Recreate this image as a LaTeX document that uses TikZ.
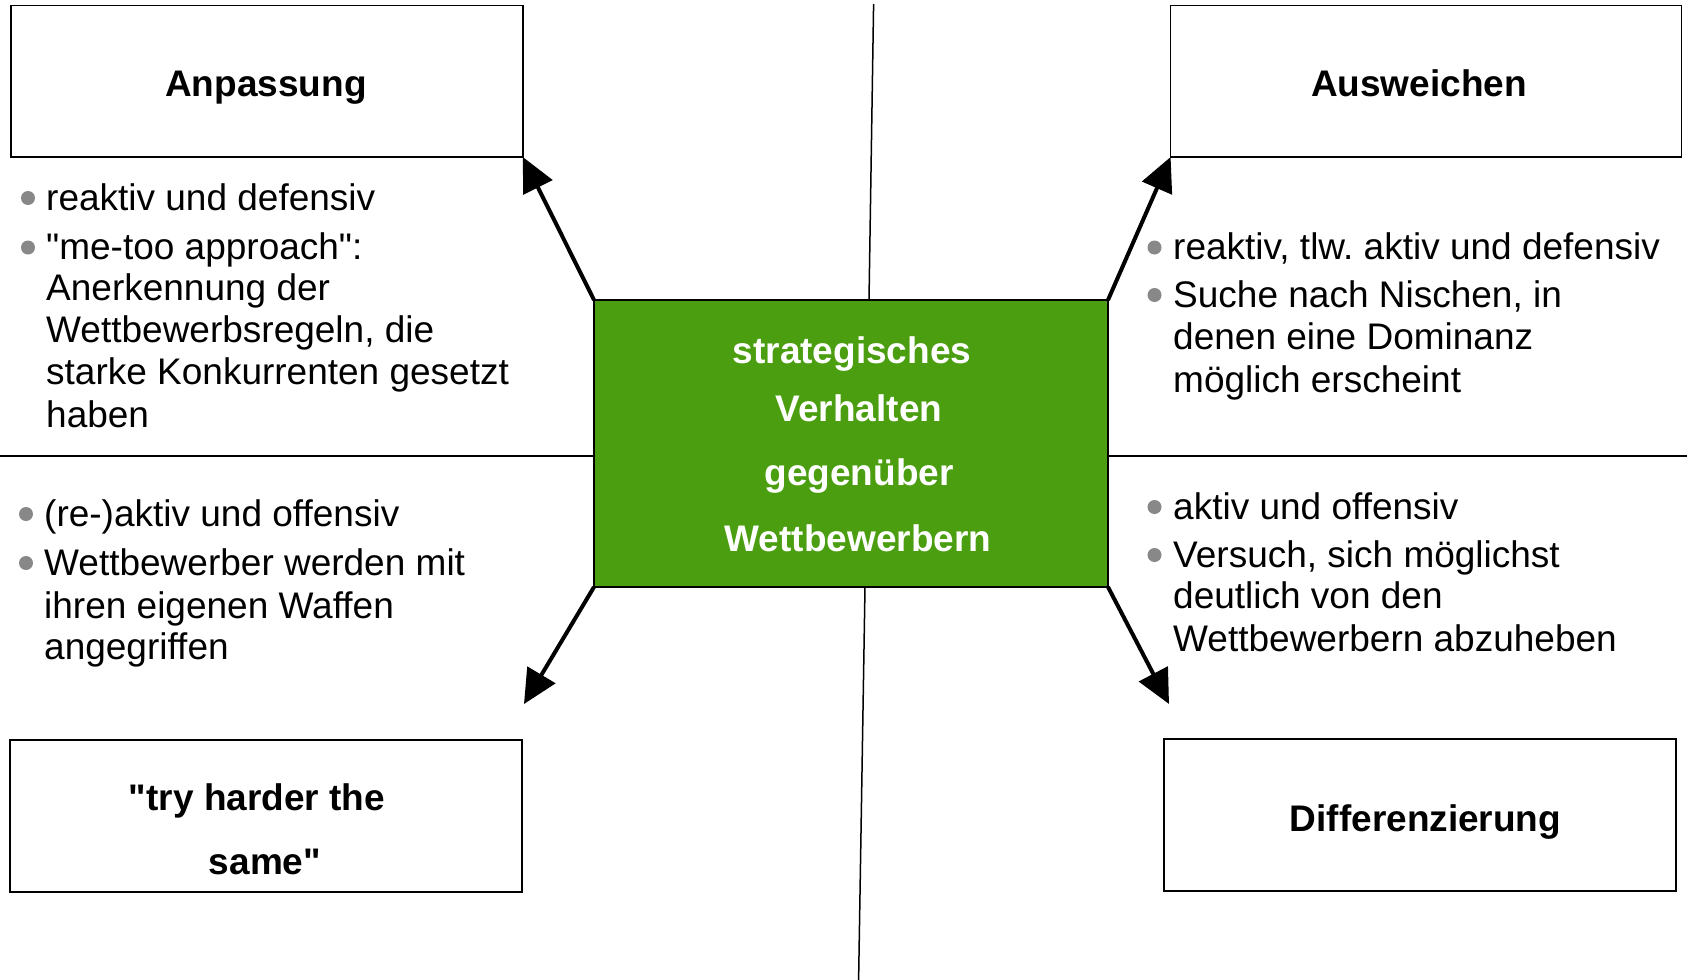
\documentclass[tikz,border=0pt]{standalone}
\usepackage{fontspec}
\setmainfont{Liberation Sans}
\usetikzlibrary{arrows.meta}
\definecolor{grn}{RGB}{74,158,16}
\definecolor{bulgray}{RGB}{136,136,136}
\newcommand{\sq}{\XeTeXglyph\XeTeXcharglyph34\relax}
\frenchspacing
\begin{document}
\begin{tikzpicture}[x=1pt,y=-1pt,
  titlebox/.style={draw=black, line width=1.6pt, inner sep=0pt, outer sep=0pt, anchor=north west},
  title/.style={font=\fontsize{37}{42}\selectfont\bfseries, anchor=base, inner sep=0pt},
  ctext/.style={font=\fontsize{37}{42}\selectfont\bfseries, text=white, anchor=base, inner sep=0pt},
  btext/.style={font=\fontsize{37}{42}\selectfont, anchor=base west, inner sep=0pt},
  bul/.style={circle, fill=bulgray, minimum size=14pt, inner sep=0pt},
  divider/.style={draw=black, line width=1.5pt},
  bigarrow/.style={line width=4pt, -{Triangle[length=34pt,width=32pt]}}]
\useasboundingbox[fill=white] (0,0) rectangle (1687,980);

% divider lines
\coordinate (vtop) at (873.6,4);
\coordinate (vtopend) at (869,300);
\coordinate (vbotstart) at (865,587);
\coordinate (vbot) at (858.6,980);
\coordinate (hl) at (0,456);
\coordinate (hr) at (1687,456);

% green centre box
\node[draw=black, line width=1.6pt, fill=grn, inner sep=0pt, outer sep=0pt, anchor=north west,
      minimum width=514pt, minimum height=287pt] (core) at (594,300) {};

\draw[divider] (vtop) -- (vtopend);
\draw[divider] (vbotstart) -- (vbot);
\draw[divider] (hl) -- (core.west |- hl);
\draw[divider] (core.east |- hr) -- (hr);

\node[ctext] (c1) at (852,363) {strategisches};
\node[ctext] (c2) at (859,421) {Verhalten};
\node[ctext] (c3) at (859,485) {gegenüber};
\node[ctext] (c4) at (858,551) {Wettbewerbern};

% corner boxes
\node[titlebox, minimum width=512pt, minimum height=151.6pt] (anp) at (10.8,5.4) {};
\node[titlebox, minimum width=511pt, minimum height=151.6pt] (ausw) at (1170.6,5.4) {};
\node[titlebox, minimum width=512.3pt, minimum height=152pt] (try) at (9.7,740) {};
\node[titlebox, minimum width=512pt, minimum height=152pt] (diff) at (1164,739) {};

\node[title] (tanp) at (266,96) {Anpassung};
\node[title] (tausw) at (1419,96) {Ausweichen};
\node[title] (ttry1) at (257,810) {\sq try harder the};
\node[title] (ttry2) at (265,874) {same\sq};
\node[title] (tdiff) at (1425.5,831) {Differenzierung};

% arrows
\coordinate (blt) at (524,704);
\coordinate (brt) at (1169,704);
\draw[bigarrow] (core.north west) -- (anp.south east);
\draw[bigarrow] (core.north east) -- (ausw.south west);
\draw[bigarrow] (core.south west) -- (blt);
\draw[bigarrow] (core.south east) -- (brt);

% top-left bullets
\node[bul] (b1) at (28,198) {};
\node[btext] (l1) at (46,210) {reaktiv und defensiv};
\node[bul] (b2) at (28,247.5) {};
\node[btext] (l2) at (46,259.5) {\sq me-too approach\sq:};
\node[btext] (l3) at (46,300) {Anerkennung der};
\node[btext] (l4) at (46,342) {Wettbewerbsregeln, die};
\node[btext] (l5) at (46,384) {starke Konkurrenten gesetzt};
\node[btext] (l6) at (46,427) {haben};

% bottom-left bullets
\node[bul] (b3) at (26,514) {};
\node[btext] (m1) at (44,526) {(re-)aktiv und offensiv};
\node[bul] (b4) at (26,563) {};
\node[btext] (m2) at (44,575) {Wettbewerber werden mit};
\node[btext] (m3) at (44,618) {ihren eigenen Waffen};
\node[btext] (m4) at (44,659) {angegriffen};

% top-right bullets
\node[bul] (b5) at (1154.5,247.5) {};
\node[btext] (r1) at (1173,259.5) {reaktiv, tlw. aktiv und defensiv};
\node[bul] (b6) at (1154.5,295) {};
\node[btext] (r2) at (1173,307) {Suche nach Nischen, in};
\node[btext] (r3) at (1173,349) {denen eine Dominanz};
\node[btext] (r4) at (1173,392) {möglich erscheint};

% bottom-right bullets
\node[bul] (b7) at (1154.5,507) {};
\node[btext] (s1) at (1173,519) {aktiv und offensiv};
\node[bul] (b8) at (1154.5,555) {};
\node[btext] (s2) at (1173,567) {Versuch, sich möglichst};
\node[btext] (s3) at (1173,608) {deutlich von den};
\node[btext] (s4) at (1173,651) {Wettbewerbern abzuheben};
\end{tikzpicture}
\end{document}
